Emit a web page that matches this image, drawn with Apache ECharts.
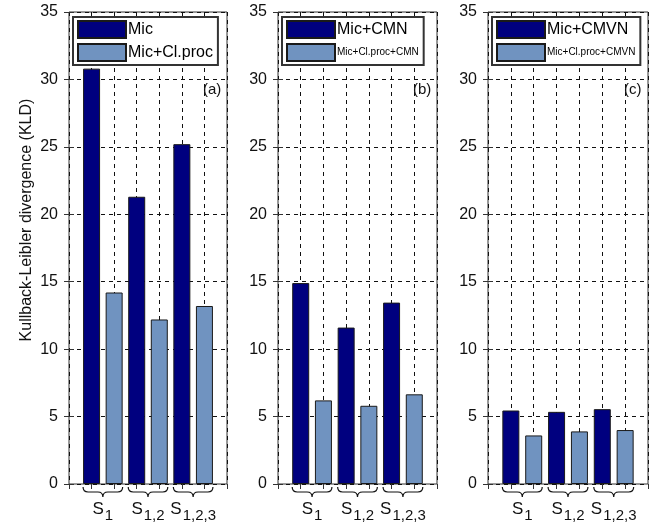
<!DOCTYPE html>
<html>
<head>
<meta charset="utf-8">
<script src="https://cdn.jsdelivr.net/npm/echarts@6/dist/echarts.min.js"></script>
<style>
  html, body { margin: 0; padding: 0; background: #fff; }
  #chart { width: 658px; height: 525px; }
</style>
</head>
<body>
<div id="chart"></div>
<script>
// speaker-set groups under each pair of bars (subscripts of S)
const groupSubs = ['1', '1,2', '1,2,3']
const yTicks = [0, 5, 10, 15, 20, 25, 30, 35]

// KLD values per group
const micRaw = [30.8, 21.3, 25.2]
const micClProc = [14.2, 12.2, 13.2]
const micCMN = [14.9, 11.6, 13.45]
const micClProcCMN = [6.2, 5.8, 6.65]
const micCMVN = [5.45, 5.35, 5.55]
const micClProcCMVN = [3.6, 3.9, 4.0]

const DARK = '#00007f'
const LIGHT = '#7093c0'
const FONT = '"Liberation Sans", Arial, sans-serif'
const BAR_W = 17

const panels = [
  { tag: '(a)', names: ['Mic', 'Mic+Cl.proc'], values: [micRaw, micClProc], left: 69, width: 158 },
  { tag: '(b)', names: ['Mic+CMN', 'Mic+Cl.proc+CMN'], values: [micCMN, micClProcCMN], left: 278, width: 159 },
  { tag: '(c)', names: ['Mic+CMVN', 'Mic+Cl.proc+CMVN'], values: [micCMVN, micClProcCMVN], left: 488, width: 160 },
]

// first bar of a pair sits at 1,3,5 and the second at 2,4,6
function pairPoints(vals, offset) {
  return vals.map((v, i) => [2 * i + 1 + offset, v])
}

const grid = []
const xAxis = []
const yAxis = []
const series = []
const legend = []
const title = []

panels.forEach((p, k) => {
  grid.push({
    left: p.left, top: 12, width: p.width, height: 472,
    show: true, borderColor: '#333', borderWidth: 1, backgroundColor: '#fff',
  })

  const xBase = { gridIndex: k, type: 'value', min: 0, max: 7, interval: 1 }
  xAxis.push({
    ...xBase, position: 'bottom',
    axisLine: { show: false }, axisTick: { show: false }, axisLabel: { show: false },
    splitLine: { show: true, lineStyle: { color: '#111', type: [4, 4], width: 1 } },
  })
  xAxis.push({
    ...xBase, position: 'top',
    axisLine: { show: false }, axisLabel: { show: false }, splitLine: { show: false },
    axisTick: { show: true, inside: true, length: 5, lineStyle: { color: '#333' } },
  })

  const yBase = { gridIndex: k, type: 'value', min: yTicks[0], max: yTicks[yTicks.length - 1], interval: 5 }
  yAxis.push({
    ...yBase, position: 'left',
    axisLine: { show: false },
    axisTick: { show: true, inside: true, length: 5, lineStyle: { color: '#333' } },
    axisLabel: { show: true, margin: 11, fontFamily: FONT, fontSize: 16, color: '#111' },
    splitLine: { show: true, lineStyle: { color: '#111', type: [4, 4], width: 1 } },
  })
  yAxis.push({
    ...yBase, position: 'right',
    axisLine: { show: false }, axisLabel: { show: false }, splitLine: { show: false },
    axisTick: { show: true, inside: true, length: 5, lineStyle: { color: '#333' } },
  })

  p.names.forEach((name, j) => {
    series.push({
      type: 'bar',
      name,
      xAxisIndex: 2 * k,
      yAxisIndex: 2 * k,
      barWidth: BAR_W,
      barGap: '-100%',
      data: pairPoints(p.values[j], j),
      itemStyle: { color: j === 0 ? DARK : LIGHT, borderColor: '#1a1a1a', borderWidth: 1 },
      emphasis: { disabled: true },
      silent: true,
      z: 2,
    })
  })

  // curly braces and S-labels under each pair
  series.push({
    type: 'custom',
    xAxisIndex: 2 * k,
    yAxisIndex: 2 * k,
    clip: false,
    silent: true,
    data: groupSubs.map((s, i) => [2 * i + 1.5, 0]),
    renderItem(params, api) {
      const x = api.value(0)
      const c = api.coord([x, 0])
      const xl = api.coord([x - 0.5, 0])[0] - BAR_W / 2
      const xr = api.coord([x + 0.5, 0])[0] + BAR_W / 2
      const xm = c[0]
      const y0 = c[1] + 3
      const h = 5
      const r = 5
      const path = [
        `M${xl} ${y0}`,
        `Q${xl} ${y0 + h} ${xl + r} ${y0 + h}`,
        `L${xm - r} ${y0 + h}`,
        `Q${xm} ${y0 + h} ${xm} ${y0 + 2 * h}`,
        `Q${xm} ${y0 + h} ${xm + r} ${y0 + h}`,
        `L${xr - r} ${y0 + h}`,
        `Q${xr} ${y0 + h} ${xr} ${y0}`,
      ].join(' ')
      return {
        type: 'group',
        children: [
          {
            type: 'path',
            shape: { pathData: path },
            style: { fill: null, stroke: '#111', lineWidth: 1.2 },
          },
          {
            type: 'text',
            style: {
              x: xm,
              y: y0 + 14,
              align: 'center',
              verticalAlign: 'top',
              text: `{s|S}{b|${groupSubs[params.dataIndex]}}`,
              rich: {
                s: { fontFamily: FONT, fontSize: 17, fill: '#111', verticalAlign: 'top' },
                b: { fontFamily: FONT, fontSize: 15, fill: '#111', padding: [7, 0, 0, 1], verticalAlign: 'bottom' },
              },
            },
          },
        ],
      }
    },
    z: 3,
  })

  legend.push({
    data: p.names,
    left: p.left + 4,
    top: 17,
    orient: 'vertical',
    itemWidth: 48,
    itemHeight: 17,
    itemGap: 4,
    padding: [3, 5, 3, 4],
    selectedMode: false,
    icon: 'rect',
    backgroundColor: '#fff',
    borderColor: '#333',
    borderWidth: 2,
    formatter: name => (name.length > 12 ? `{sm|${name}}` : name),
    textStyle: {
      fontFamily: FONT, fontSize: 16, color: '#000', padding: [0, 0, 0, -3],
      rich: { sm: { fontFamily: FONT, fontSize: 10, color: '#000' } },
    },
  })

  title.push({
    text: p.tag,
    left: p.left + p.width - 24,
    top: 82,
    padding: 0,
    textStyle: { fontFamily: FONT, fontSize: 15, fontWeight: 'normal', color: '#111' },
  })
})

const chart = echarts.init(document.getElementById('chart'), null, { renderer: 'canvas' })
chart.setOption({
  animation: false,
  backgroundColor: '#fff',
  title,
  legend,
  grid,
  xAxis,
  yAxis,
  series,
  graphic: [{
    type: 'text',
    x: 27,
    y: 220,
    rotation: Math.PI / 2,
    style: {
      text: 'Kullback-Leibler divergence (KLD)',
      fontFamily: FONT,
      fontSize: 16,
      fill: '#111',
      align: 'center',
      verticalAlign: 'middle',
    },
  }],
})
</script>
</body>
</html>
